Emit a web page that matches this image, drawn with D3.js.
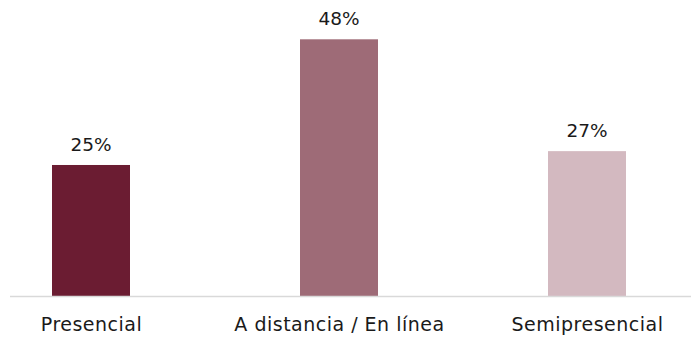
<!DOCTYPE html>
<html>
<head>
<meta charset="utf-8">
<script src="https://cdn.jsdelivr.net/npm/d3@7"></script>
<style>
  html, body { margin: 0; padding: 0; background: #ffffff; }
  svg { display: block; }
  text { font-family: "DejaVu Sans", sans-serif; fill: #1a1a1a; }
</style>
</head>
<body>
<svg id="chart" width="691" height="347"></svg>
<script>
const categories = ["Presencial", "A distancia / En línea", "Semipresencial"];
const values = [24.6, 48.2, 27.2];
const colors = ["#6b1c32", "#9e6b77", "#d3b9c0"];

const svg = d3.select("#chart");
const W = 691, H = 347;
const baseY = 296;

const x = d3.scalePoint().domain(categories).range([91, 587]);
const y = d3.scaleLinear().domain([0, 48.2]).range([baseY, 39.3]);
const barW = 78;

// bars
svg.selectAll("rect.bar")
  .data(values)
  .enter().append("rect")
  .attr("class", "bar")
  .attr("x", (d, i) => x(categories[i]) - barW / 2)
  .attr("y", d => y(d))
  .attr("width", barW)
  .attr("height", d => baseY - y(d))
  .attr("fill", (d, i) => colors[i]);

// baseline axis
const axis = d3.axisBottom(x).tickSize(0).tickPadding(0);
const g = svg.append("g").attr("transform", `translate(0,${baseY})`).call(axis);
g.select(".domain").remove();
g.append("line").attr("x1", 10).attr("x2", 691).attr("y1", 0.5).attr("y2", 0.5)
  .attr("stroke", "#d9d9d9").attr("stroke-width", 1.5);
g.selectAll(".tick text")
  .attr("y", 34.5).attr("dy", null)
  .style("font-size", "19px")
  .style("letter-spacing", "0.5px")
  .style("font-family", "'DejaVu Sans', sans-serif")
  .attr("fill", "#1a1a1a");

// value labels
svg.selectAll("text.val")
  .data(values)
  .enter().append("text")
  .attr("class", "val")
  .attr("x", (d, i) => x(categories[i]))
  .attr("y", d => y(d) - 14)
  .attr("text-anchor", "middle")
  .style("font-size", "18.5px")
  .text(d => Math.round(d) + "%");
</script>
</body>
</html>
